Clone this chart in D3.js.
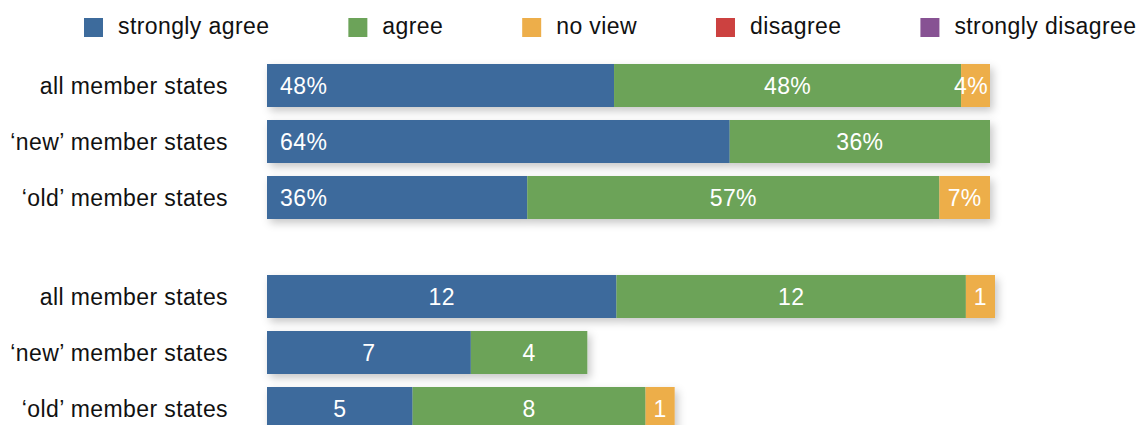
<!DOCTYPE html>
<html>
<head>
<meta charset="utf-8">
<script src="https://cdn.jsdelivr.net/npm/d3@7"></script>
<style>
  body { margin: 0; background: #fff; }
  svg text { font-family: "Liberation Sans", Arial, sans-serif; font-size: 23px; letter-spacing: 0.4px; }
</style>
</head>
<body>
<svg id="chart" width="1139" height="425"></svg>
<script>
// categories and responses
var categories = ["all member states", "\u2018new\u2019 member states", "\u2018old\u2019 member states"];
var responses = ["strongly agree", "agree", "no view", "disagree", "strongly disagree"];
var colors = ["#3d6b9c", "#6ca359", "#edae4a", "#cc4140", "#875293"];

// share of answers, %
var pctStronglyAgree = [48, 64, 36];
var pctAgree = [48, 36, 57];
var pctNoView = [4, 0, 7];
var pctDisagree = [0, 0, 0];
var pctStronglyDisagree = [0, 0, 0];

// number of member states
var cntStronglyAgree = [12, 7, 5];
var cntAgree = [12, 4, 8];
var cntNoView = [1, 0, 1];
var cntDisagree = [0, 0, 0];
var cntStronglyDisagree = [0, 0, 0];

function rows(cols) {
  return categories.map(function(c, i) {
    var r = { category: c };
    responses.forEach(function(k, j) { r[k] = cols[j][i]; });
    return r;
  });
}
var pctRows = rows([pctStronglyAgree, pctAgree, pctNoView, pctDisagree, pctStronglyDisagree]);
var cntRows = rows([cntStronglyAgree, cntAgree, cntNoView, cntDisagree, cntStronglyDisagree]);

var svg = d3.select("#chart");
var color = d3.scaleOrdinal().domain(responses).range(colors);

var defs = svg.append("defs");
defs.append("filter").attr("id", "shadow")
    .attr("x", "-10%").attr("y", "-30%").attr("width", "130%").attr("height", "180%")
  .append("feDropShadow")
    .attr("dx", 3).attr("dy", 4).attr("stdDeviation", 4)
    .attr("flood-color", "#000").attr("flood-opacity", 0.22);

// legend
var legend = svg.append("g").attr("transform", "translate(84,0)");
var lx = 0;
responses.forEach(function(k) {
  var g = legend.append("g").attr("transform", "translate(" + lx + ",0)");
  g.append("rect").attr("x", 0).attr("y", 18).attr("width", 19).attr("height", 19).attr("fill", color(k));
  var t = g.append("text").attr("x", 34).attr("y", 33.5).attr("fill", "#111").text(k);
  lx += 34 + t.node().getComputedTextLength() + 79;
});

var stack = d3.stack().keys(responses);

function drawGroup(data, x, top, fmt, pct) {
  // 43px bars on a 56px pitch
  var y = d3.scaleBand().domain(categories).range([top, top + 56 * 3 - 13]).paddingInner(13 / 56).paddingOuter(0);
  var series = stack(data);
  var g = svg.append("g");

  g.selectAll(".cat").data(categories).enter().append("text")
      .attr("x", 228).attr("y", function(d) { return y(d) + y.bandwidth() / 2; })
      .attr("dy", "0.36em").attr("text-anchor", "end").attr("fill", "#111")
      .text(function(d) { return d; });

  var bars = g.selectAll(".bar").data(data).enter().append("g")
      .attr("filter", "url(#shadow)");
  bars.each(function(row, i) {
    var b = d3.select(this);
    series.forEach(function(s) {
      var seg = s[i];
      if (seg[1] - seg[0] <= 0) return;
      b.append("rect")
        .attr("x", x(seg[0])).attr("y", y(row.category))
        .attr("width", x(seg[1]) - x(seg[0])).attr("height", y.bandwidth())
        .attr("fill", color(s.key));
    });
  });

  // value labels
  series.forEach(function(s, si) {
    s.forEach(function(seg, i) {
      var v = seg[1] - seg[0];
      if (v <= 0) return;
      var row = data[i];
      var t = g.append("text")
        .attr("y", y(row.category) + y.bandwidth() / 2).attr("dy", "0.36em")
        .attr("fill", "#fff").text(fmt(v));
      var x0 = x(seg[0]), x1 = x(seg[1]);
      var end = x(d3.sum(responses, function(k) { return row[k]; }));
      if (pct && si === 0) {
        t.attr("x", x0 + 13).attr("text-anchor", "start");
      } else {
        var w = t.node().getComputedTextLength();
        var cx = (x0 + x1) / 2;
        if (cx + w / 2 > end - 2) cx = end - 2 - w / 2;
        t.attr("x", cx).attr("text-anchor", "middle");
      }
    });
  });
}

var xPct = d3.scaleLinear().domain([0, 100]).range([267, 990]);
var xCnt = d3.scaleLinear().domain([0, 25]).range([267, 995]);

drawGroup(pctRows, xPct, 64, function(v) { return Math.round(v) + "%"; }, true);
drawGroup(cntRows, xCnt, 275, function(v) { return Math.round(v); }, false);
</script>
</body>
</html>
